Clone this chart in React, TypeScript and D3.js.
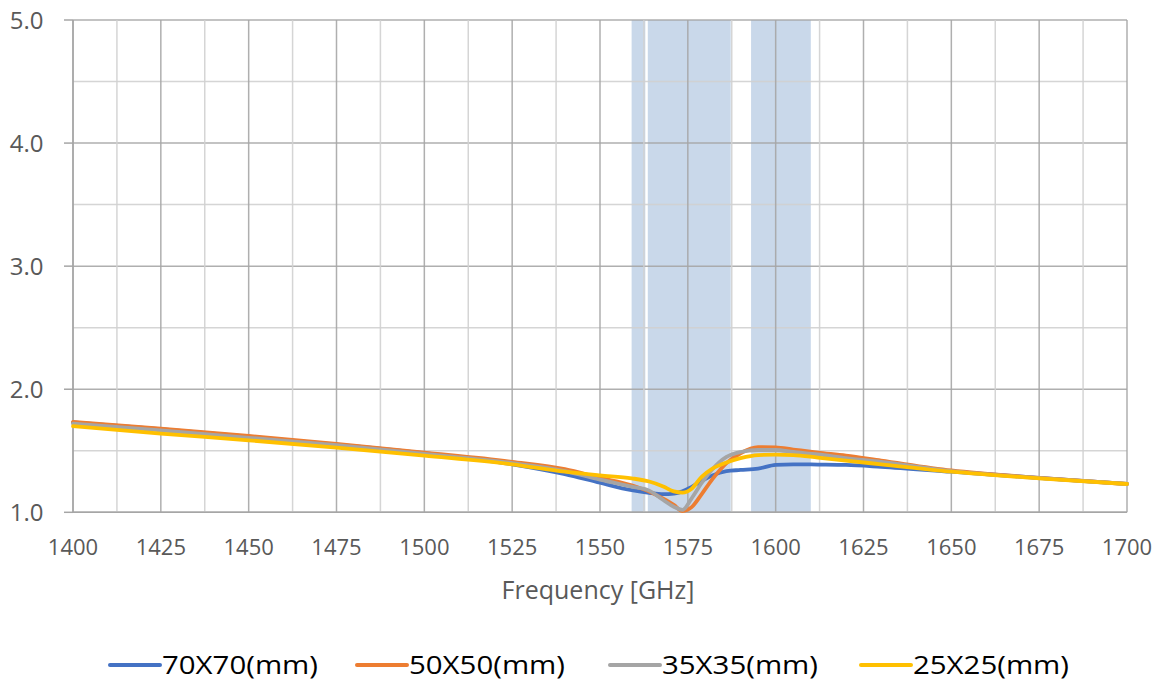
import React from "react";
import * as d3 from "d3";

const freqs = [1400, 1425, 1450, 1475, 1500, 1525, 1540, 1550, 1559, 1564, 1568, 1571, 1573.5, 1576, 1579, 1582, 1586, 1590, 1595, 1600, 1605, 1612, 1620, 1630, 1650, 1675, 1700];
const s70 = [1.73, 1.675, 1.615, 1.55, 1.48, 1.39, 1.31, 1.24, 1.18, 1.158, 1.147, 1.152, 1.17, 1.205, 1.255, 1.3, 1.335, 1.344, 1.355, 1.385, 1.39, 1.388, 1.385, 1.37, 1.33, 1.28, 1.23];
const s50 = [1.735, 1.68, 1.62, 1.555, 1.485, 1.41, 1.35, 1.28, 1.22, 1.168, 1.11, 1.06, 1.01, 1.04, 1.15, 1.27, 1.4, 1.48, 1.53, 1.528, 1.51, 1.485, 1.46, 1.42, 1.34, 1.28, 1.23];
const s35 = [1.72, 1.665, 1.605, 1.545, 1.475, 1.4, 1.335, 1.265, 1.208, 1.176, 1.1, 1.045, 1.02, 1.11, 1.24, 1.35, 1.45, 1.49, 1.506, 1.506, 1.49, 1.47, 1.44, 1.41, 1.335, 1.278, 1.23];
const s25 = [1.7, 1.64, 1.585, 1.525, 1.46, 1.39, 1.33, 1.3, 1.276, 1.25, 1.21, 1.17, 1.16, 1.19, 1.29, 1.355, 1.405, 1.44, 1.465, 1.468, 1.465, 1.445, 1.42, 1.39, 1.33, 1.276, 1.23];

const seriesNames = ["70X70(mm)", "50X50(mm)", "35X35(mm)", "25X25(mm)"];
const seriesColors = ["#4472C4", "#ED7D31", "#A5A5A5", "#FFC000"];
const seriesValues = [s70, s50, s35, s25];

const bandStarts = [1559, 1563.6, 1593];
const bandEnds = [1562.9, 1587.2, 1610];

const xTicks = [1400, 1425, 1450, 1475, 1500, 1525, 1550, 1575, 1600, 1625, 1650, 1675, 1700];
const yTicks = [1.0, 2.0, 3.0, 4.0, 5.0];

const W = 1159, H = 684;
const left = 73, right = 1127, top = 20, bottom = 512.3;

export default function App() {
  const x = d3.scaleLinear().domain([1400, 1700]).range([left, right]);
  const y = d3.scaleLinear().domain([1, 5]).range([bottom, top]);

  const line = d3
    .line<number>()
    .x((_, i) => x(freqs[i]))
    .y((d) => y(d))
    .curve(d3.curveMonotoneX);

  const minorX = d3.range(1400, 1700.01, 12.5);
  const minorY = d3.range(1, 5.01, 0.5);
  const legendX = [110, 357, 610, 861];
  const font = "'Open Sans', sans-serif";

  return (
    <svg width={W} height={H} style={{ position: "absolute", left: 0, top: 0, background: "#fff" }}>
      {bandStarts.map((b, i) => (
        <rect key={"b" + i} x={x(b)} y={top} width={x(bandEnds[i]) - x(b)} height={bottom - top} fill="#C9D8EA" />
      ))}
      {minorY.map((v, i) => (
        <line key={"hy" + i} x1={left} x2={right} y1={y(v)} y2={y(v)} stroke={Number.isInteger(v) ? "#A6A6A6" : "#D0D0D0"} strokeWidth={1.5} strokeOpacity={0.9} />
      ))}
      {minorX.map((v, i) => (
        <line key={"vx" + i} x1={x(v)} x2={x(v)} y1={top} y2={bottom} stroke={i % 2 === 0 ? "#A6A6A6" : "#D0D0D0"} strokeWidth={1.5} strokeOpacity={0.9} />
      ))}
      {yTicks.map((v, i) => (
        <line key={"yt" + i} x1={left - 9} x2={left} y1={y(v)} y2={y(v)} stroke="#A6A6A6" strokeWidth={1.5} />
      ))}
      <line x1={left} x2={left} y1={top} y2={bottom} stroke="#A6A6A6" strokeWidth={1.5} />
      <line x1={left} x2={right} y1={bottom} y2={bottom} stroke="#A6A6A6" strokeWidth={1.5} />

      {seriesValues.map((vals, i) => (
        <path key={"s" + i} d={line(vals) || ""} fill="none" stroke={seriesColors[i]} strokeWidth={3.8} strokeLinejoin="round" strokeLinecap="round" />
      ))}

      {yTicks.map((v, i) => (
        <text key={"yl" + i} x={43.5} y={y(v)} dy="0.36em" textAnchor="end" fontFamily={font} fontSize={24} fill="#595959">
          {v.toFixed(1)}
        </text>
      ))}
      {xTicks.map((v, i) => (
        <text key={"xl" + i} x={x(v)} y={546.7} dy="0.36em" textAnchor="middle" fontFamily={font} fontSize={22} fill="#595959">
          {v}
        </text>
      ))}
      <text x={598} y={599} textAnchor="middle" fontFamily={font} fontSize={25} fill="#595959">
        Frequency [GHz]
      </text>

      {seriesNames.map((n, i) => (
        <g key={"l" + i}>
          <line x1={legendX[i]} x2={legendX[i] + 50} y1={665} y2={665} stroke={seriesColors[i]} strokeWidth={4} strokeLinecap="round" />
          <text x={legendX[i] + 52} y={665} dy="0.36em" fontFamily="'Liberation Sans Narrow', 'Open Sans', sans-serif" fontSize={25} fill="#000" textLength={156} lengthAdjust="spacingAndGlyphs">
            {n}
          </text>
        </g>
      ))}
    </svg>
  );
}
